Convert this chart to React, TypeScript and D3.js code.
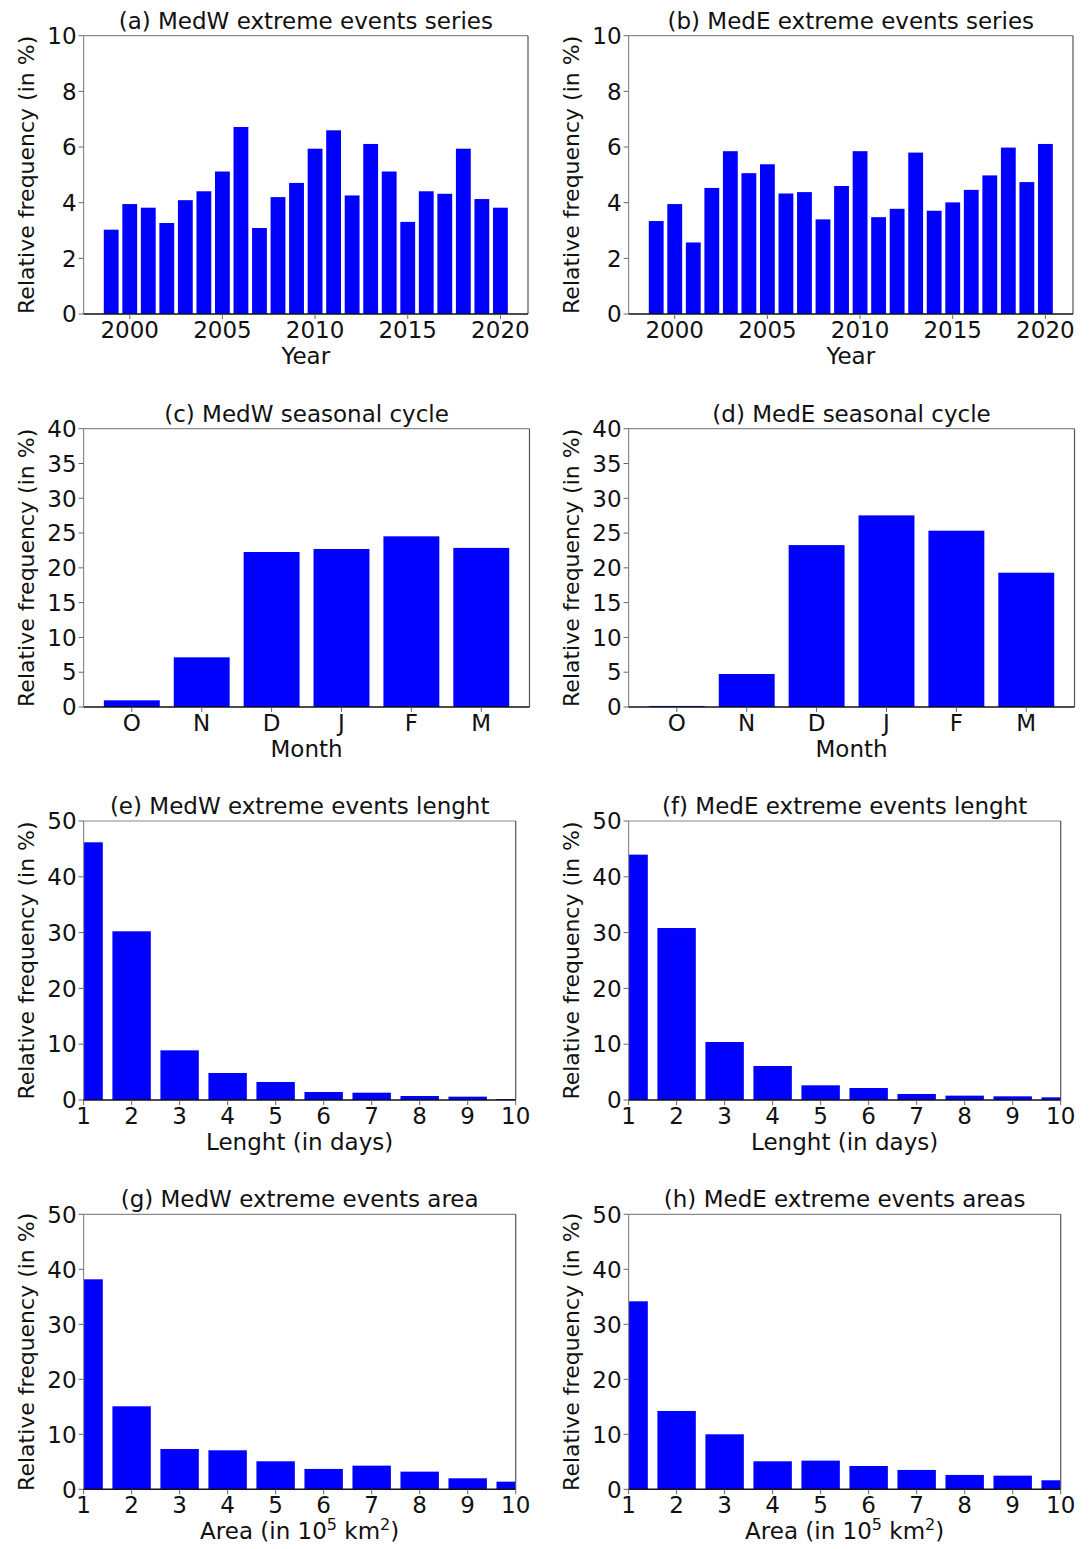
import React from 'react';
import * as d3 from 'd3';

// yearly series 1999-2020
const years = [1999, 2000, 2001, 2002, 2003, 2004, 2005, 2006, 2007, 2008, 2009, 2010, 2011, 2012, 2013, 2014, 2015, 2016, 2017, 2018, 2019, 2020];
const medwYear = [3.03, 3.95, 3.82, 3.27, 4.09, 4.41, 5.12, 6.72, 3.09, 4.2, 4.71, 5.94, 6.6, 4.26, 6.11, 5.12, 3.31, 4.41, 4.32, 5.94, 4.13, 3.82];
const medeYear = [3.34, 3.95, 2.57, 4.53, 5.85, 5.06, 5.38, 4.33, 4.38, 3.4, 4.6, 5.85, 3.48, 3.78, 5.8, 3.71, 4.01, 4.46, 4.98, 5.98, 4.74, 6.11];

// seasonal cycle
const months = ['O', 'N', 'D', 'J', 'F', 'M'];
const medwMonth = [0.96, 7.14, 22.28, 22.71, 24.53, 22.87];
const medeMonth = [0.15, 4.74, 23.27, 27.54, 25.34, 19.3];

// length / area distributions (bins 1..10)
const bins = [1, 2, 3, 4, 5, 6, 7, 8, 9, 10];
const medwLength = [46.18, 30.23, 8.9, 4.84, 3.23, 1.43, 1.31, 0.72, 0.6, 0.18];
const medeLength = [43.97, 30.82, 10.39, 6.09, 2.63, 2.15, 1.08, 0.78, 0.66, 0.48];
const medwArea = [38.18, 15.09, 7.33, 7.09, 5.09, 3.7, 4.3, 3.21, 2.0, 1.39];
const medeArea = [34.18, 14.24, 10.0, 5.09, 5.21, 4.24, 3.52, 2.61, 2.48, 1.64];

const yearTicks = [2000, 2005, 2010, 2015, 2020];

const FONT = 'DejaVu Sans';
const FS = 23;
const BLUE = '#0000ff';

type Box = { left: number; top: number; right: number; bottom: number };

type PanelProps = {
  id: string;
  box: Box;
  title: string;
  xlabel: React.ReactNode;
  xDomain: [number, number];
  xTicks: number[];
  xTickFormat: (d: number) => string;
  yMax: number;
  yTicks: number[];
  xs: number[];
  values: number[];
};

const Panel = ({ id, box, title, xlabel, xDomain, xTicks, xTickFormat, yMax, yTicks, xs, values }: PanelProps) => {
  const x = d3.scaleLinear().domain(xDomain).range([box.left, box.right]);
  const y = d3.scaleLinear().domain([0, yMax]).range([box.bottom, box.top]);
  const cx = (box.left + box.right) / 2;
  const cy = (box.top + box.bottom) / 2;
  const clipId = `clip-${id}`;

  return (
    <g>
      <clipPath id={clipId}>
        <rect x={box.left} y={box.top} width={box.right - box.left} height={box.bottom - box.top} />
      </clipPath>
      <g clipPath={`url(#${clipId})`}>
        {xs.map((d, i) => (
          <rect
            key={i}
            x={x(d - 0.4)}
            y={y(values[i])}
            width={x(d + 0.4) - x(d - 0.4)}
            height={y(0) - y(values[i])}
            fill={BLUE}
          />
        ))}
      </g>
      {/* spines */}
      <line x1={box.left} x2={box.right} y1={box.top} y2={box.top} stroke="#8a8a8a" strokeWidth={1.2} />
      <line x1={box.right} x2={box.right} y1={box.top} y2={box.bottom} stroke="#555" strokeWidth={1.2} />
      <line x1={box.left} x2={box.left} y1={box.top} y2={box.bottom} stroke="#8a8a8a" strokeWidth={1.2} />
      <line x1={box.left} x2={box.right} y1={box.bottom} y2={box.bottom} stroke="#111" strokeWidth={1.4} />

      {/* y ticks */}
      {yTicks.map((t) => (
        <g key={`y${t}`}>
          <line x1={box.left - 5} x2={box.left} y1={y(t)} y2={y(t)} stroke="#666" strokeWidth={1} />
          <text x={box.left - 7} y={y(t)} dy="0.36em" textAnchor="end" fontFamily={FONT} fontSize={FS} fill="#111">
            {t}
          </text>
        </g>
      ))}

      {/* x ticks */}
      {xTicks.map((t) => (
        <g key={`x${t}`}>
          <line x1={x(t)} x2={x(t)} y1={box.bottom} y2={box.bottom + 5} stroke="#666" strokeWidth={1} />
          <text x={x(t)} y={box.bottom + 24} textAnchor="middle" fontFamily={FONT} fontSize={FS} fill="#111">
            {xTickFormat(t)}
          </text>
        </g>
      ))}

      <text x={cx} y={box.top - 7} textAnchor="middle" fontFamily={FONT} fontSize={FS} fill="#111">
        {title}
      </text>
      <text x={cx} y={box.bottom + 50} textAnchor="middle" fontFamily={FONT} fontSize={FS} fill="#111">
        {xlabel}
      </text>
      <text
        transform={`translate(${box.left - 50},${cy}) rotate(-90)`}
        textAnchor="middle"
        fontFamily={FONT}
        fontSize={22}
        fill="#111"
      >
        Relative frequency (in %)
      </text>
    </g>
  );
};

const areaLabel = (
  <>
    Area (in 10
    <tspan fontSize={16} dy={-9}>5</tspan>
    <tspan dy={9}> km</tspan>
    <tspan fontSize={16} dy={-9}>2</tspan>
    <tspan dy={9}>)</tspan>
  </>
);

const App = () => {
  const colX = [0, 545];
  const yearDomain: [number, number] = [1997.51, 2021.49];
  const monthDomain: [number, number] = [-0.69, 5.69];
  const binDomain: [number, number] = [1, 10];

  const rows = [
    { top: 35.7, bottom: 314, left: 83.6, right: 528 },
    { top: 428.7, bottom: 707, left: 83.6, right: 529.5 },
    { top: 821, bottom: 1100, left: 83.6, right: 515.7 },
    { top: 1214.3, bottom: 1489.3, left: 83.6, right: 515.7 },
  ];
  const boxAt = (r: number, c: number): Box => ({
    left: rows[r].left + colX[c],
    right: rows[r].right + colX[c],
    top: rows[r].top,
    bottom: rows[r].bottom,
  });

  const fmt = (d: number) => String(d);
  const monthFmt = (d: number) => months[d];

  return (
    <svg
      width={1090}
      height={1549}
      style={{ position: 'absolute', left: 0, top: 0, background: '#fff' }}
    >
      <rect width={1090} height={1549} fill="#fff" />
      <Panel id="a" box={boxAt(0, 0)} title="(a) MedW extreme events series" xlabel="Year"
        xDomain={yearDomain} xTicks={yearTicks} xTickFormat={fmt} yMax={10} yTicks={[0, 2, 4, 6, 8, 10]}
        xs={years} values={medwYear} />
      <Panel id="b" box={boxAt(0, 1)} title="(b) MedE extreme events series" xlabel="Year"
        xDomain={yearDomain} xTicks={yearTicks} xTickFormat={fmt} yMax={10} yTicks={[0, 2, 4, 6, 8, 10]}
        xs={years} values={medeYear} />
      <Panel id="c" box={boxAt(1, 0)} title="(c) MedW seasonal cycle" xlabel="Month"
        xDomain={monthDomain} xTicks={[0, 1, 2, 3, 4, 5]} xTickFormat={monthFmt} yMax={40}
        yTicks={[0, 5, 10, 15, 20, 25, 30, 35, 40]} xs={[0, 1, 2, 3, 4, 5]} values={medwMonth} />
      <Panel id="d" box={boxAt(1, 1)} title="(d) MedE seasonal cycle" xlabel="Month"
        xDomain={monthDomain} xTicks={[0, 1, 2, 3, 4, 5]} xTickFormat={monthFmt} yMax={40}
        yTicks={[0, 5, 10, 15, 20, 25, 30, 35, 40]} xs={[0, 1, 2, 3, 4, 5]} values={medeMonth} />
      <Panel id="e" box={boxAt(2, 0)} title="(e) MedW extreme events lenght" xlabel="Lenght (in days)"
        xDomain={binDomain} xTicks={bins} xTickFormat={fmt} yMax={50} yTicks={[0, 10, 20, 30, 40, 50]}
        xs={bins} values={medwLength} />
      <Panel id="f" box={boxAt(2, 1)} title="(f) MedE extreme events lenght" xlabel="Lenght (in days)"
        xDomain={binDomain} xTicks={bins} xTickFormat={fmt} yMax={50} yTicks={[0, 10, 20, 30, 40, 50]}
        xs={bins} values={medeLength} />
      <Panel id="g" box={boxAt(3, 0)} title="(g) MedW extreme events area" xlabel={areaLabel}
        xDomain={binDomain} xTicks={bins} xTickFormat={fmt} yMax={50} yTicks={[0, 10, 20, 30, 40, 50]}
        xs={bins} values={medwArea} />
      <Panel id="h" box={boxAt(3, 1)} title="(h) MedE extreme events areas" xlabel={areaLabel}
        xDomain={binDomain} xTicks={bins} xTickFormat={fmt} yMax={50} yTicks={[0, 10, 20, 30, 40, 50]}
        xs={bins} values={medeArea} />
    </svg>
  );
};

export default App;
